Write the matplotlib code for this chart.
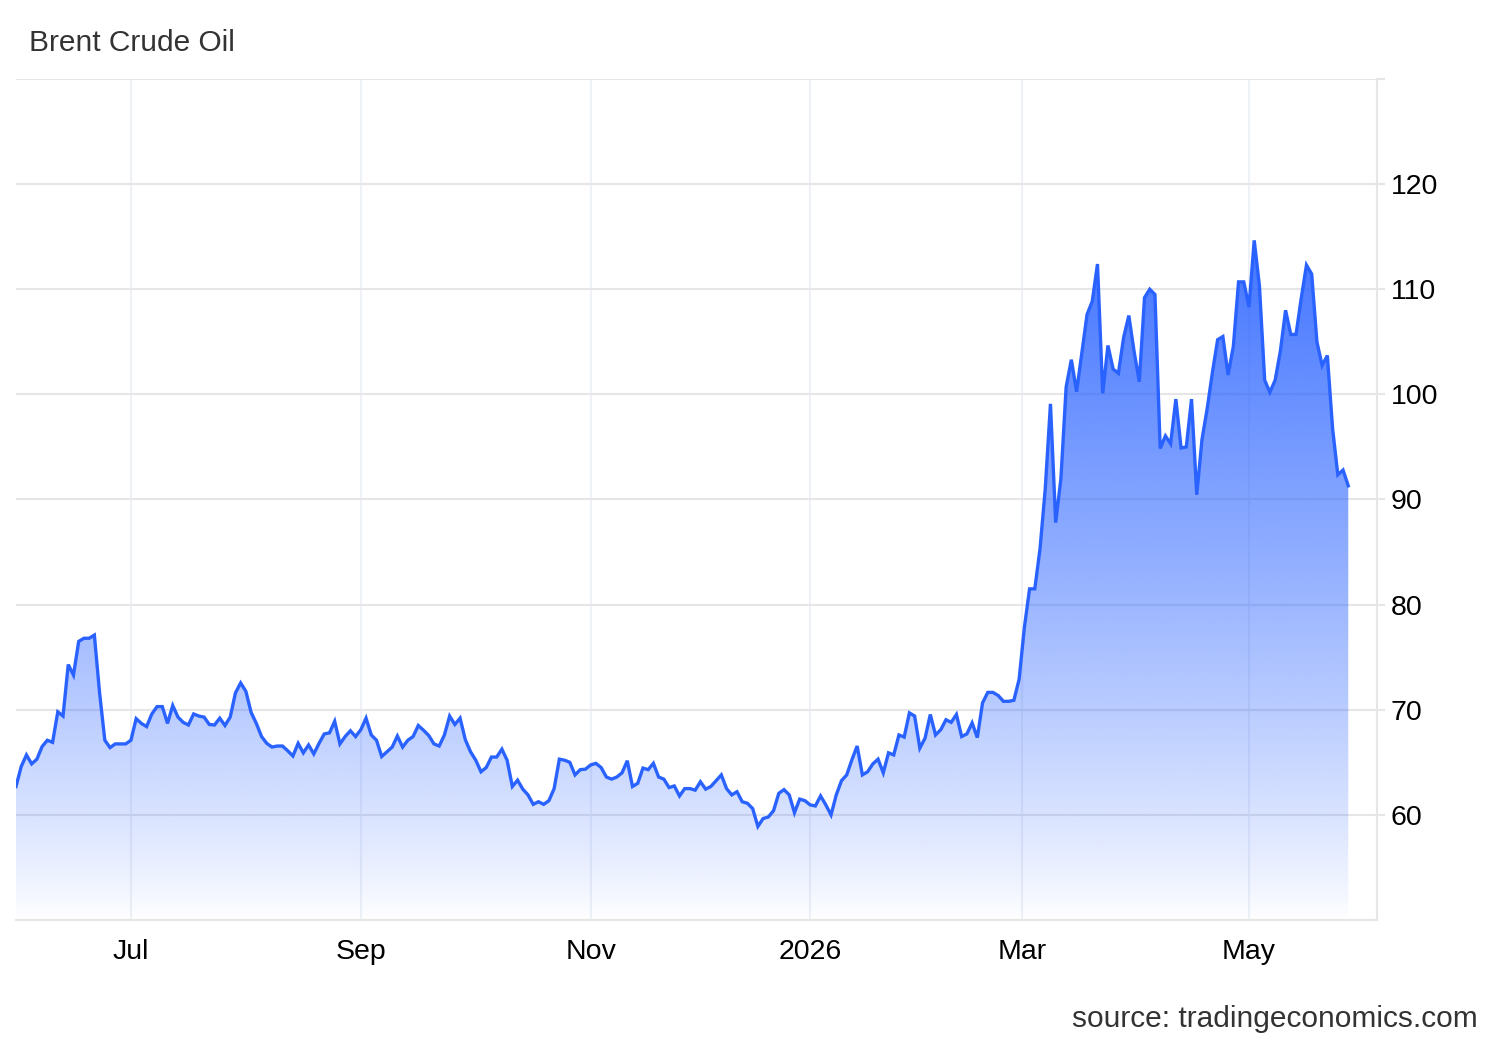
import numpy as np
import matplotlib
matplotlib.use('Agg')
import matplotlib.pyplot as plt

plt.rcParams['font.family'] = ['Liberation Sans', 'DejaVu Sans']

# daily Brent close (trading days, end of May 2025 -> end of May 2026)
brent_jun_aug = [62.7, 64.6, 65.7, 64.85, 65.3, 66.5, 67.1, 66.9, 69.8, 69.4, 74.3, 73.3, 76.5, 76.8,
                 76.8, 77.1, 71.6, 67.1, 66.4, 66.75, 66.75, 66.75, 67.1, 69.15, 68.7, 68.4, 69.6, 70.3,
                 70.3, 68.7, 70.4, 69.3, 68.8, 68.55, 69.6, 69.4, 69.3, 68.6, 68.55, 69.2, 68.5, 69.3,
                 71.6, 72.55]
brent_aug_oct = [71.75, 69.75, 68.7, 67.45, 66.8, 66.45, 66.55, 66.55, 66.1, 65.6, 66.8, 65.9, 66.65,
                 65.8, 66.8, 67.7, 67.8, 68.9, 66.75, 67.45, 68.0, 67.45, 68.1, 69.2, 67.6, 67.1, 65.55,
                 66.0, 66.45, 67.5, 66.45, 67.1, 67.45, 68.5, 68.05, 67.55, 66.75, 66.55, 67.6, 69.4,
                 68.6, 69.2, 67.15, 66.0]
brent_oct_dec = [65.2, 64.1, 64.5, 65.5, 65.5, 66.25, 65.2, 62.7, 63.3, 62.45, 61.9, 61.0, 61.25, 61.0,
                 61.35, 62.5, 65.3, 65.2, 65.0, 63.8, 64.3, 64.35, 64.75, 64.9, 64.5, 63.6, 63.4, 63.6,
                 64.0, 65.15, 62.7, 63.0, 64.45, 64.3, 64.9, 63.6, 63.4, 62.6, 62.75, 61.8, 62.5, 62.5,
                 62.35]
brent_dec_feb = [63.15, 62.45, 62.7, 63.25, 63.8, 62.5, 61.9, 62.2, 61.25, 61.1, 60.6, 58.9, 59.65, 59.8,
                 60.4, 62.05, 62.4, 61.9, 60.2, 61.5, 61.35, 60.95, 60.85, 61.8, 60.95, 60.0, 61.9, 63.25,
                 63.8, 65.25, 66.55, 63.8, 64.1, 64.85, 65.3, 64.0, 65.9, 65.7, 67.6, 67.4, 69.7, 69.4,
                 66.35, 67.3, 69.55]
brent_feb = [67.6, 68.1, 69.05, 68.8, 69.55, 67.45, 67.7, 68.75, 67.35, 70.65, 71.65, 71.65, 71.35,
             70.8, 70.8]
brent_mar = [70.9, 72.9, 77.8, 81.5, 81.5, 85.3, 91.0, 99.1, 87.8, 92.0, 100.7, 103.3, 100.25, 103.9,
             107.6, 108.85, 112.4, 100.1, 104.65, 102.4, 102.0, 105.4, 107.5, 104.1, 101.2]
brent_apr_may = [109.2, 110.0, 109.5, 94.85, 96.05, 95.3, 99.55, 94.9, 95.0, 99.55, 90.45, 95.7, 98.65,
                 102.1, 105.2, 105.5, 101.85, 104.55, 110.7, 110.7, 108.3, 114.65, 110.3, 101.35, 100.2,
                 101.35, 104.1, 108.0, 105.7, 105.7, 109.15, 112.3, 111.45, 105.0, 102.75, 103.7, 96.75,
                 92.35, 92.8, 91.3]

month_labels = ['Jul', 'Sep', 'Nov', '2026', 'Mar', 'May']
month_pos = [22, 66, 110, 152, 192.5, 236]   # trading-day index of first session
y_ticks = [60, 70, 80, 90, 100, 110, 120, 130]

prices = np.array(brent_jun_aug + brent_aug_oct + brent_oct_dec + brent_dec_feb
                  + brent_feb + brent_mar + brent_apr_may)
x = np.arange(len(prices))

line_col = '#2962ff'
grid_col = '#e6e6e6'
ymin, ymax = 50, 130

fig = plt.figure(figsize=(15, 10.4), dpi=100)
ax = fig.add_axes([16/1500, 1 - 920/1040, (1377 - 16)/1500, (920 - 79)/1040])

# gradient fill under the line
poly = ax.fill_between(x, prices, ymin, color='none', lw=0)
top = prices.max()
t = np.linspace(0, 1, 256).reshape(-1, 1)
grad = np.zeros((256, 1, 4))
grad[..., 0] = 41/255
grad[..., 1] = 98/255
grad[..., 2] = 1.0
grad[..., 3] = 0.88 * t ** 0.85
img = ax.imshow(grad, extent=[x[0], x[-1], ymin, top], origin='lower', aspect='auto', zorder=2,
                interpolation='bilinear')
img.set_clip_path(poly.get_paths()[0], transform=ax.transData)

ax.plot(x, prices, color=line_col, lw=2.4, zorder=3, solid_joinstyle='miter')

ax.set_xlim(0, 260.5)
ax.set_ylim(ymin, ymax)

for p in month_pos:
    ax.axvline(p, color='#eef1f6', lw=1.5, zorder=1)
for v in y_ticks:
    ax.axhline(v, color=grid_col, lw=1.5, zorder=1)

ax.yaxis.tick_right()
ax.set_yticks(y_ticks)
ax.set_yticklabels([str(v) if v < 130 else '' for v in y_ticks])
ax.tick_params(axis='y', length=6, width=1.5, color=grid_col, pad=4, labelsize=20.5, labelcolor='#000000')
ax.set_xticks(month_pos)
ax.set_xticklabels(month_labels)
ax.tick_params(axis='x', length=0, pad=14, labelsize=20.5, labelcolor='#000000')

for s in ['left', 'top']:
    ax.spines[s].set_visible(False)
for s in ['right', 'bottom']:
    ax.spines[s].set_color(grid_col)
    ax.spines[s].set_linewidth(1.5)

fig.text(29/1500, 1 - 43/1040, 'Brent Crude Oil', fontsize=21.5, color='#333333', ha='left', va='center')
fig.text(1478/1500, 1 - 1019/1040, 'source: tradingeconomics.com', fontsize=21.5, color='#333333',
         ha='right', va='center')

fig.savefig('out.png', dpi=100)
